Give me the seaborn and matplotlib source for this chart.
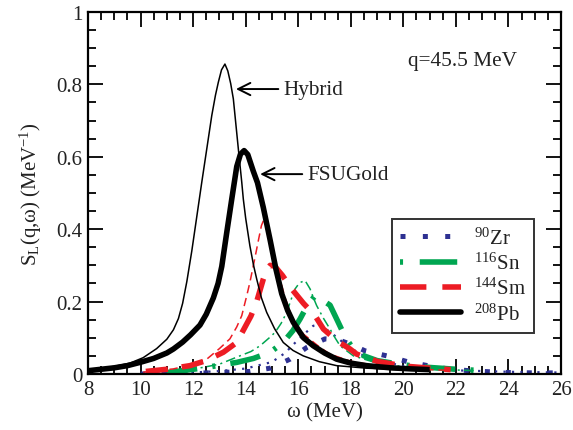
import numpy as np
import pandas as pd
import seaborn as sns
import matplotlib
matplotlib.use("Agg")
import matplotlib.pyplot as plt
from matplotlib.lines import Line2D
from matplotlib.ticker import MultipleLocator, FixedLocator, FixedFormatter

# ---------------- data ----------------
pb_hyb_x = [8, 8.5, 9, 9.6, 10.1, 10.61, 11.0, 11.25, 11.44, 11.6, 11.76, 11.95, 12.14, 12.33, 12.52,
            12.71, 12.85, 12.96, 13.08, 13.21, 13.32, 13.43, 13.53, 13.72, 13.85, 13.91, 14.0, 14.16,
            14.3, 14.42, 14.6, 14.8, 15.1, 15.43, 15.8, 16.19, 16.8, 17.46, 18.6, 19.5, 20.3, 21]
pb_hyb_y = [0.01, 0.015, 0.021, 0.03, 0.045, 0.07, 0.096, 0.122, 0.153, 0.195, 0.255, 0.34, 0.435, 0.53, 0.622,
            0.714, 0.77, 0.806, 0.84, 0.856, 0.837, 0.802, 0.76, 0.622, 0.53, 0.483, 0.43, 0.354,
            0.3, 0.262, 0.21, 0.17, 0.125, 0.087, 0.065, 0.05, 0.034, 0.023, 0.016, 0.013, 0.011, 0.01]

pb_fsu_x = [8, 8.5, 9, 9.5, 9.98, 10.5, 11.0, 11.25, 11.6, 11.9, 12.26, 12.5, 12.77, 12.95, 13.09, 13.28,
            13.47, 13.66, 13.8, 13.94, 14.08, 14.29, 14.45, 14.67, 14.93, 15.15, 15.37, 15.6, 15.81, 16.2,
            16.57, 17.0, 17.46, 18.0, 18.6, 19.5, 20.3, 21]
pb_fsu_y = [0.009, 0.013, 0.017, 0.023, 0.032, 0.043, 0.058, 0.069, 0.088, 0.108, 0.135, 0.165, 0.21, 0.25, 0.297, 0.391,
            0.483, 0.573, 0.607, 0.617, 0.606, 0.56, 0.528, 0.46, 0.37, 0.29, 0.222, 0.175, 0.143, 0.1,
            0.078, 0.058, 0.041, 0.03, 0.023, 0.017, 0.014, 0.012]

sm_hyb_x = [10.1, 10.7, 11.25, 11.9, 12.52, 13.0, 13.4, 13.66, 13.85, 14.04, 14.16, 14.35, 14.5, 14.6, 14.7,
            14.78, 14.9, 14.99, 15.24, 15.5, 15.8, 16.2, 16.8, 17.2, 18, 19, 20, 21, 21.8]
sm_hyb_y = [0.005, 0.01, 0.014, 0.025, 0.041, 0.07, 0.097, 0.13, 0.161, 0.216, 0.253, 0.32, 0.375, 0.41, 0.428,
            0.425, 0.395, 0.354, 0.28, 0.21, 0.15, 0.11, 0.075, 0.055, 0.035, 0.023, 0.016, 0.012, 0.01]

sm_fsu_x = [10.2, 11, 11.88, 12.5, 13.15, 13.66, 14.2, 14.42, 14.67, 14.8, 14.93, 15.1, 15.4, 15.75, 16.2,
            16.64, 16.96, 17.5, 17.97, 18.22, 19, 20, 21, 21.8]
sm_fsu_y = [0.007, 0.013, 0.023, 0.037, 0.06, 0.087, 0.16, 0.2, 0.262, 0.288, 0.3, 0.298, 0.272, 0.235, 0.195,
            0.161, 0.124, 0.09, 0.069, 0.055, 0.035, 0.022, 0.016, 0.012]

sn_hyb_x = [11, 12, 13, 13.78, 14.2, 14.55, 14.9, 15.12, 15.35, 15.56, 15.75, 15.88, 16.05, 16.26, 16.45,
            16.58, 16.7, 16.95, 17.21, 17.4, 17.59, 18.1, 19, 20, 21, 22, 22.8]
sn_hyb_y = [0.005, 0.013, 0.027, 0.05, 0.062, 0.078, 0.1, 0.115, 0.14, 0.17, 0.21, 0.235, 0.252, 0.258, 0.235,
            0.21, 0.189, 0.155, 0.124, 0.1, 0.078, 0.05, 0.03, 0.02, 0.015, 0.011, 0.009]

sn_fsu_x = [11, 11.6, 12.5, 13.66, 14.3, 14.93, 15.4, 15.8, 16.07, 16.35, 16.64, 16.9, 17.21, 17.52, 17.8,
            18.1, 18.5, 19, 20, 21, 22, 22.8]
sn_fsu_y = [0.004, 0.009, 0.018, 0.032, 0.043, 0.06, 0.085, 0.12, 0.152, 0.19, 0.216, 0.205, 0.19, 0.143, 0.1,
            0.069, 0.05, 0.037, 0.025, 0.018, 0.013, 0.01]

zr_hyb_x = [10, 11, 12, 13, 14, 15, 15.5, 16, 16.57, 16.85, 17.21, 17.5, 17.84, 18.5, 19.5, 20, 21, 22, 23,
            24, 25, 26]
zr_hyb_y = [0.0, 0.002, 0.004, 0.008, 0.015, 0.033, 0.058, 0.095, 0.133, 0.137, 0.115, 0.1, 0.078, 0.05, 0.03,
            0.022, 0.015, 0.01, 0.008, 0.006, 0.005, 0.004]

zr_fsu_x = [10, 11, 12, 13, 14.16, 14.93, 15.69, 16.32, 17.02, 17.5, 18, 18.54, 19.37, 20.2, 21, 21.7, 22.5,
            23.3, 24, 25, 26]
zr_fsu_y = [0.0, 0.001, 0.002, 0.004, 0.007, 0.016, 0.041, 0.073, 0.097, 0.095, 0.082, 0.064, 0.05, 0.033,
            0.022, 0.014, 0.009, 0.006, 0.004, 0.003, 0.003]

legend_labels = ["$^{90}$Zr", "$^{116}$Sn", "$^{144}$Sm", "$^{208}$Pb"]
x_ticks = [8, 10, 12, 14, 16, 18, 20, 22, 24, 26]
x_ticklabels = ["8", "10", "12", "14", "16", "18", "20", "22", "24", "26"]
y_ticks = [0, 0.2, 0.4, 0.6, 0.8, 1.0]
y_ticklabels = ["0", "0.2", "0.4", "0.6", "0.8", "1"]

# ---------------- styling ----------------
sns.set_theme(style="ticks")
plt.rcParams["font.family"] = ["Liberation Serif", "DejaVu Serif"]
plt.rcParams["mathtext.fontset"] = "custom"
plt.rcParams["mathtext.rm"] = "Liberation Serif"
plt.rcParams["mathtext.it"] = "Liberation Serif:italic"
plt.rcParams["lines.scale_dashes"] = False

BLUE = "#2e3192"
GREEN = "#00a651"
RED = "#ed1c24"
BLACK = "#000000"
TEXT = "#222222"

fig = plt.figure(figsize=(5.73, 4.31), dpi=100)
ax = fig.add_axes([0.1536, 0.130, 0.8255, 0.840])

THIN = 1.1
THICK = 4.0

styles = {
    "zr_hyb": dict(color=BLUE, lw=1.6, ls=(0, (1.6, 4.5))),
    "zr_fsu": dict(color=BLUE, lw=3.6, ls=(0, (3.6, 11.5))),
    "sn_hyb": dict(color=GREEN, lw=THIN, ls=(0, (7, 3, 1.5, 3))),
    "sn_fsu": dict(color=GREEN, lw=THICK, ls=(0, (22, 11, 2.2, 11))),
    "sm_hyb": dict(color=RED, lw=THIN, ls=(0, (6, 3.5))),
    "sm_fsu": dict(color=RED, lw=THICK, ls=(0, (16, 10))),
    "pb_hyb": dict(color=BLACK, lw=THIN, ls="-"),
    "pb_fsu": dict(color=BLACK, lw=THICK, ls="-"),
}
series = {
    "zr_hyb": (zr_hyb_x, zr_hyb_y), "zr_fsu": (zr_fsu_x, zr_fsu_y),
    "sn_hyb": (sn_hyb_x, sn_hyb_y), "sn_fsu": (sn_fsu_x, sn_fsu_y),
    "sm_hyb": (sm_hyb_x, sm_hyb_y), "sm_fsu": (sm_fsu_x, sm_fsu_y),
    "pb_hyb": (pb_hyb_x, pb_hyb_y), "pb_fsu": (pb_fsu_x, pb_fsu_y),
}
for key, (xs, ys) in series.items():
    st = styles[key]
    df = pd.DataFrame({"omega": xs, "S": ys})
    sns.lineplot(data=df, x="omega", y="S", ax=ax, color=st["color"], linewidth=st["lw"],
                 linestyle=st["ls"], estimator=None, legend=False, dash_capstyle="butt",
                 solid_capstyle="butt", solid_joinstyle="round")

ax.set_xlim(8, 26)
ax.set_ylim(0, 1)
ax.xaxis.set_major_locator(FixedLocator(x_ticks))
ax.xaxis.set_major_formatter(FixedFormatter(x_ticklabels))
ax.yaxis.set_major_locator(FixedLocator(y_ticks))
ax.yaxis.set_major_formatter(FixedFormatter(y_ticklabels))
ax.xaxis.set_minor_locator(MultipleLocator(0.5))
ax.yaxis.set_minor_locator(MultipleLocator(0.05))
ax.tick_params(which="both", direction="in", top=True, right=True, color="black",
               labelsize=15, labelcolor=TEXT)
ax.tick_params(which="major", length=11, width=1.3, pad=4)
ax.tick_params(which="minor", length=5.5, width=1.3)
for sp in ax.spines.values():
    sp.set_linewidth(1.6)
    sp.set_color("black")

ax.set_xlabel("ω (MeV)", fontsize=15, color=TEXT, labelpad=3)
ax.set_ylabel("S$_\\mathrm{L}$(q,ω) (MeV$^{-1}$)", fontsize=15, color=TEXT, labelpad=9)

ANN = 15.3
ax.text(20.18, 0.865, "q=45.5 MeV", fontsize=ANN, va="center", ha="left", color=TEXT)
ax.annotate("Hybrid", xy=(13.63, 0.787), xytext=(15.42, 0.787), fontsize=ANN, va="center",
            ha="left", color=TEXT,
            arrowprops=dict(arrowstyle="->", lw=1.4, color="black", mutation_scale=22,
                            shrinkA=1, shrinkB=0))
ax.annotate("FSUGold", xy=(14.55, 0.552), xytext=(16.33, 0.552), fontsize=ANN, va="center",
            ha="left", color=TEXT,
            arrowprops=dict(arrowstyle="->", lw=1.4, color="black", mutation_scale=22,
                            shrinkA=1, shrinkB=0))

handles = [
    Line2D([], [], color=BLUE, lw=3.6, ls=(0, (3.6, 12.5)), dash_capstyle="butt"),
    Line2D([], [], color=GREEN, lw=THICK, ls=(0, (2.2, 12, 27, 12)), dash_capstyle="butt"),
    Line2D([], [], color=RED, lw=THICK, ls=(0, (19, 11.5)), dash_capstyle="butt"),
    Line2D([], [], color=BLACK, lw=THICK, ls="-"),
]
leg = ax.legend(handles, legend_labels, loc="upper right", bbox_to_anchor=(0.943, 0.428),
                fontsize=15, frameon=True, fancybox=False, handlelength=2.93,
                borderpad=0.4, labelspacing=0.2, handletextpad=0.6, borderaxespad=0)
leg.get_frame().set_edgecolor("black")
leg.get_frame().set_linewidth(1.4)
for t in leg.get_texts():
    t.set_color(TEXT)

fig.savefig("out.png", dpi=100)
